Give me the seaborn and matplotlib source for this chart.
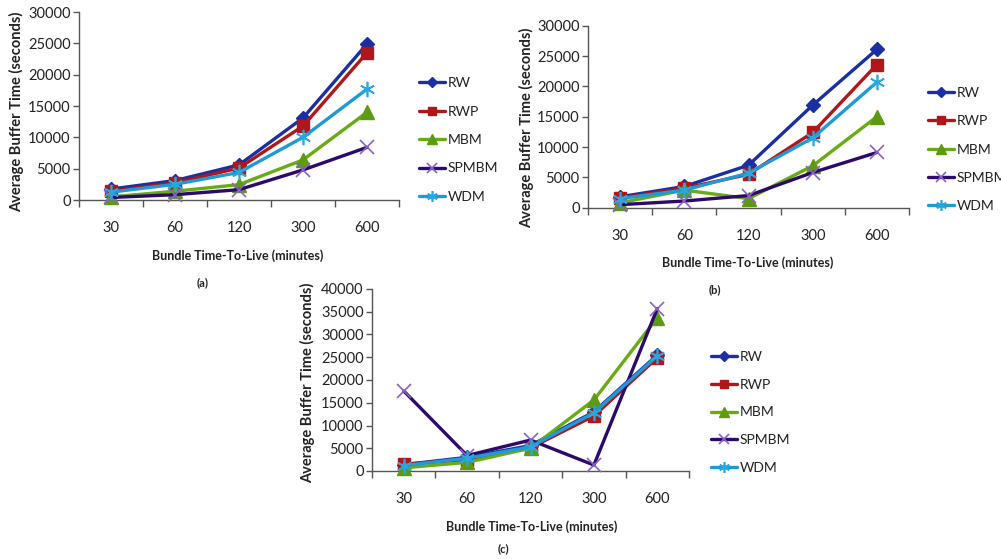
import matplotlib
matplotlib.use("Agg")
import matplotlib.pyplot as plt
import seaborn as sns
import numpy as np

sns.set_theme(style="white")
plt.rcParams['font.family'] = ['Lato', 'DejaVu Sans']

ttl_labels = ["30", "60", "120", "300", "600"]
series = ["RW", "RWP", "MBM", "SPMBM", "WDM"]

a_RW    = [1750, 3100, 5600, 13100, 24900]
a_RWP   = [1400, 2750, 5100, 11800, 23500]
a_MBM   = [500, 1400, 2450, 6400, 14000]
a_SPMBM = [400, 850, 1650, 4800, 8400]
a_WDM   = [1250, 2500, 4400, 10000, 17700]

b_RW    = [1800, 3500, 7000, 16900, 26100]
b_RWP   = [1600, 3200, 5500, 12400, 23600]
b_MBM   = [800, 2900, 1500, 6900, 15000]
b_SPMBM = [500, 1100, 2000, 5800, 9100]
b_WDM   = [1500, 2900, 5700, 11500, 20700]

c_RW    = [1400, 3000, 5600, 13000, 25500]
c_RWP   = [1500, 2500, 5100, 12100, 24900]
c_MBM   = [700, 1900, 5000, 15600, 33700]
c_SPMBM = [17600, 3400, 6800, 1300, 35700]
c_WDM   = [1200, 2800, 5300, 12800, 25300]

styles = {
    "RW":    dict(color="#1B2FA3", marker="D", ms=7.5, mec="#1B2FA3", mfc="#1B2FA3", mew=1),
    "RWP":   dict(color="#B0171B", marker="s", ms=9, mec="#B0171B", mfc="#B0171B", mew=1),
    "MBM":   dict(color="#6AAA14", marker="^", ms=9.5, mec="#5E9A10", mfc="#5E9A10", mew=1),
    "SPMBM": dict(color="#2B0A6B", marker="x", ms=10, mec="#8A62C8", mfc="#8A62C8", mew=1.2),
    "WDM":   dict(color="#1E9AD6", marker=(6, 2, 0), ms=11, mec="#29A8E0", mfc="#29A8E0", mew=1.2),
}

W, H = 1001, 559
fig = plt.figure(figsize=(W / 100, H / 100), dpi=100)

def add_ax(left, right, top, bottom):
    return fig.add_axes([left / W, 1 - bottom / H, (right - left) / W, (bottom - top) / H])

panels = [
    dict(box=(79, 399, 12, 200), data=[a_RW, a_RWP, a_MBM, a_SPMBM, a_WDM], ymax=30000,
         leg=(419, 83, 197), cap=(203, 283), xlab=(238, 256), ylab=(17, 112)),
    dict(box=(588, 909, 25.7, 207.7), data=[b_RW, b_RWP, b_MBM, b_SPMBM, b_WDM], ymax=30000,
         leg=(928, 93, 206), cap=(715, 290), xlab=(748, 263), ylab=(527, 128)),
    dict(box=(372, 689, 289, 471), data=[c_RW, c_RWP, c_MBM, c_SPMBM, c_WDM], ymax=40000,
         leg=(711, 357, 468), cap=(503, 549), xlab=(532, 527), ylab=(308, 383)),
]

x = np.arange(len(ttl_labels))
fs_tick = 10.5
for i, p in enumerate(panels):
    ax = add_ax(*p["box"])
    for name, vals in zip(series, p["data"]):
        st = styles[name]
        sns.lineplot(x=x, y=vals, ax=ax, color=st["color"], lw=2.4, marker=st["marker"],
                     markersize=st["ms"], markeredgecolor=st["mec"], markerfacecolor=st["mfc"],
                     markeredgewidth=st["mew"], label=name, legend=False, clip_on=False, zorder=3)
    ax.set_xlim(-0.5, 4.5)
    ax.set_ylim(0, p["ymax"])
    ax.set_yticks(np.arange(0, p["ymax"] + 1, 5000))
    ax.set_yticklabels([str(v) for v in range(0, p["ymax"] + 1, 5000)], fontsize=fs_tick, color="#222222")
    ax.set_xticks(x)
    ax.set_xticklabels(ttl_labels, fontsize=fs_tick, color="#222222")
    ax.set_xticks(np.arange(-0.5, 5, 1), minor=True)
    ax.tick_params(axis="x", which="major", length=0, pad=15)
    ax.tick_params(axis="x", which="minor", length=5, width=1, color="#555555", direction="out", bottom=True)
    ax.tick_params(axis="y", which="major", length=4, width=1, color="#555555", direction="out", left=True, pad=2)
    for s in ["top", "right"]:
        ax.spines[s].set_visible(False)
    for s in ["left", "bottom"]:
        ax.spines[s].set_color("#555555")
        ax.spines[s].set_linewidth(1)
    ax.grid(False)
    ax.set_xlabel("")
    ax.set_ylabel("")
    fig.text(p["ylab"][0] / W, 1 - p["ylab"][1] / H, "Average Buffer Time (seconds)", rotation=90,
             ha="center", va="center", fontsize=10.5, fontweight="bold", color="#222222")
    fig.text(p["xlab"][0] / W, 1 - p["xlab"][1] / H, "Bundle Time-To-Live (minutes)",
             ha="center", va="center", fontsize=9, fontweight="bold", color="#222222")
    fig.text(p["cap"][0] / W, 1 - p["cap"][1] / H, "(" + "abc"[i] + ")",
             ha="center", va="center", fontsize=8, fontweight="bold", color="#222222")
    lx, ly0, ly1 = p["leg"]
    hs, ls = ax.get_legend_handles_labels()
    step = (ly1 - ly0) / (len(series) - 1)
    fsl = 10
    leg = fig.legend(hs, ls, loc="center left", bbox_to_anchor=(lx / W, 1 - ((ly0 + ly1) / 2) / H),
                     frameon=False, fontsize=fsl, handlelength=1.9, handletextpad=0.15,
                     labelspacing=(step - fsl * 1.389) / (fsl * 1.389) + 0.13, borderpad=0, borderaxespad=0,
                     markerscale=0.7)
    for t_ in leg.get_texts():
        t_.set_color("#222222")

fig.savefig("out.png", dpi=100)
